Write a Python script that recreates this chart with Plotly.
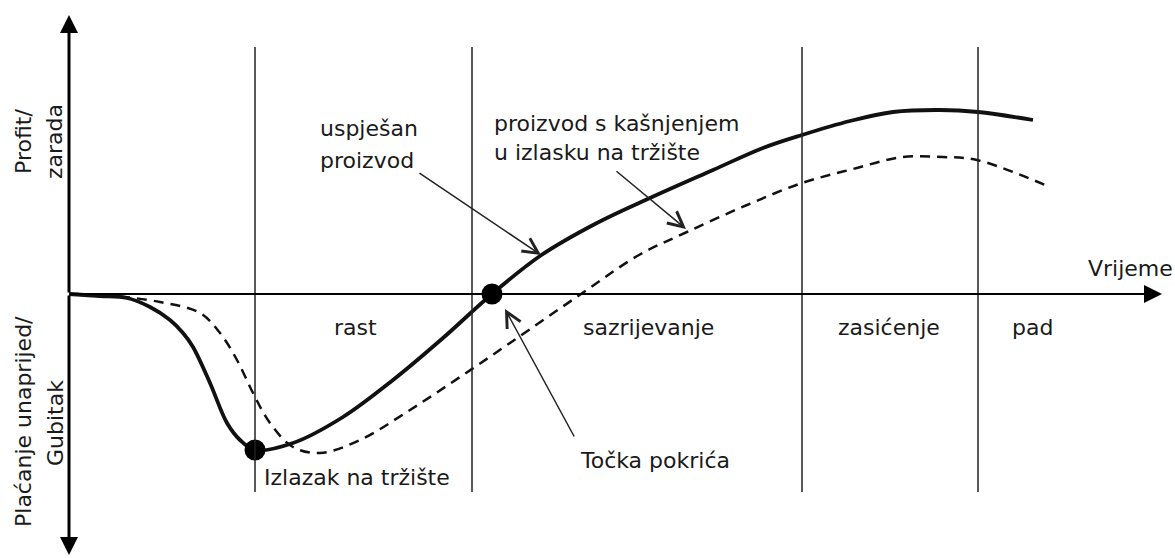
import plotly.graph_objects as go

# Successful product (solid curve): time vs. profit
time_solid = [0, 3.1, 5.8, 8.1, 10.1, 11.4, 12.4, 14.1, 15.8, 17.1, 18.6, 22.4, 27.4, 32.4,
              37.4, 42.3, 47.1, 52.6, 58.1, 64.4, 69.4, 73.3, 78.1, 82.4, 87.1, 90.9, 96.4]
profit_solid = [0, -0.2, -0.4, -1.3, -2.6, -3.9, -5.3, -8.9, -12.9, -14.6, -15.6, -14.9, -12.3, -8.6,
                -4.4, 0, 3.8, 7.0, 9.6, 12.4, 14.6, 15.9, 17.3, 18.2, 18.4, 18.2, 17.4]

# Product launched late (dashed curve)
time_late = [0, 3.4, 9.1, 13.1, 15.1, 16.8, 18.4, 20.1, 22.4, 25.1, 29.1, 34.1, 39.1, 44.1,
             51.2, 57.0, 61.8, 67.8, 73.3, 78.4, 83.4, 87.4, 90.8, 98.1]
profit_late = [0, -0.1, -0.8, -1.9, -3.9, -6.6, -9.9, -12.9, -15.3, -15.9, -14.6, -11.6, -8.3, -4.9,
               0, 3.9, 6.2, 8.9, 11.1, 12.5, 13.7, 13.7, 13.4, 10.7]

# Key points: market launch and break-even
point_time = [18.6, 42.3]
point_profit = [-15.6, 0]

# Phase boundaries and names
phase_bounds = [18.6, 40.3, 73.3, 90.9]
phase_labels = ["rast", "sazrijevanje", "zasićenje", "pad"]
phase_label_x = [28.6, 57.9, 82.0, 96.3]

FONT = "DejaVu Sans"
TXT = "#1a1a1a"

fig = go.Figure()

for xb in phase_bounds:
    fig.add_shape(type="line", x0=xb, x1=xb, y0=-19.8, y1=24.7,
                  line=dict(color="#222", width=1.5))

fig.add_trace(go.Scatter(x=time_late, y=profit_late, mode="lines",
                         line=dict(color="#111", width=2.5, dash="10px,7px", shape="spline", smoothing=1.0),
                         hoverinfo="skip"))
fig.add_trace(go.Scatter(x=time_solid, y=profit_solid, mode="lines",
                         line=dict(color="#111", width=3.8, shape="spline", smoothing=1.0),
                         hoverinfo="skip"))
fig.add_trace(go.Scatter(x=point_time, y=point_profit, mode="markers",
                         marker=dict(size=21, color="#000"), hoverinfo="skip"))

ann = []
# axes with arrow heads
for (tx, ty, w) in [(0, 27.9, 3), (0, -26.1, 3), (109.3, 0, 2)]:
    ann.append(dict(x=tx, y=ty, ax=0, ay=0, xref="x", yref="y", axref="x", ayref="y",
                    text="", showarrow=True, arrowhead=2, arrowwidth=w,
                    arrowsize=3.6 / w, arrowcolor="#000"))

# pointer arrows
for (hx, hy, tx, ty) in [(47.2, 3.9, 34.9, 12.2), (61.7, 6.5, 54.6, 12.4), (43.6, -1.5, 50.6, -14.4)]:
    ann.append(dict(x=hx, y=hy, ax=tx, ay=ty, xref="x", yref="y", axref="x", ayref="y",
                    text="", showarrow=True, arrowhead=5, arrowwidth=1.5, arrowsize=2,
                    arrowcolor="#222"))

def label(x, y, text, anchor="center", angle=0, size=22):
    ann.append(dict(x=x, y=y, xref="x", yref="y", text=text, showarrow=False,
                    xanchor=anchor, yanchor="middle", textangle=angle,
                    font=dict(family=FONT, size=size, color=TXT)))

for lx, name in zip(phase_label_x, phase_labels):
    label(lx, -3.3, name)

label(106.1, 2.6, "Vrijeme")
label(-4.6, 15.2, "Profit/", angle=-90)
label(-1.5, 15.2, "zarada", angle=-90)
label(-4.6, -12.8, "Plaćanje unaprijed/", angle=-90)
label(-1.4, -12.9, "Gubitak", angle=-90)
label(24.9, 16.6, "uspješan", anchor="left")
label(24.9, 13.4, "proizvod", anchor="left")
label(42.3, 17.1, "proizvod s kašnjenjem", anchor="left")
label(42.3, 14.2, "u izlasku na tržište", anchor="left")
label(19.3, -18.3, "Izlazak na tržište", anchor="left")
label(50.9, -16.6, "Točka pokrića", anchor="left")

fig.update_layout(
    width=1175, height=558,
    margin=dict(l=0, r=0, t=0, b=0),
    paper_bgcolor="white", plot_bgcolor="white",
    showlegend=False,
    annotations=ann,
    xaxis=dict(range=[-6.9, 110.6], visible=False, fixedrange=True),
    yaxis=dict(range=[-26.4, 29.4], visible=False, fixedrange=True),
)

fig.write_html("out.html", config={"displayModeBar": False},
               post_script="document.body.style.margin='0px';")
